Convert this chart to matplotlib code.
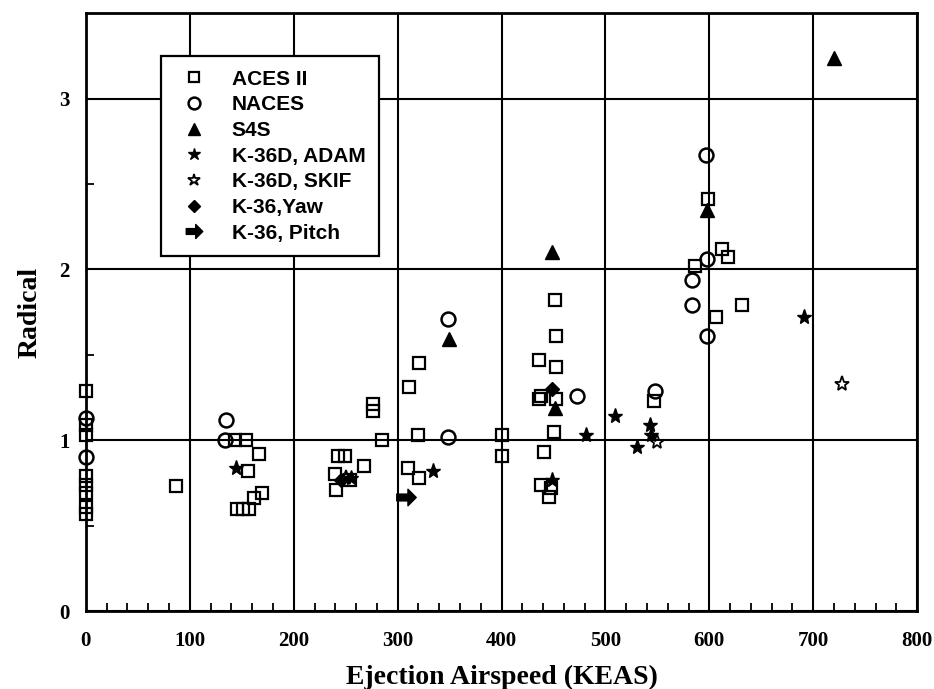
import matplotlib
matplotlib.use("Agg")
import matplotlib.pyplot as plt
from matplotlib.path import Path
from matplotlib.ticker import MultipleLocator, FixedLocator

# ---- data (Ejection Airspeed KEAS, Radical) ----
aces_x = [0, 0, 0, 0, 0, 0, 0, 0, 87,
          143, 154, 167, 156, 169, 162, 145, 151, 157,
          276, 276, 285, 243, 249, 268, 240, 241, 254,
          311, 321, 320, 310, 321, 400, 400,
          451, 452, 436, 452, 436, 438, 452, 450, 441, 438, 448, 446,
          547, 599, 612, 618, 586, 631, 606]
aces_y = [1.29, 1.09, 1.03, 0.79, 0.74, 0.69, 0.61, 0.57, 0.73,
          1.00, 1.00, 0.92, 0.82, 0.69, 0.66, 0.60, 0.60, 0.60,
          1.21, 1.17, 1.00, 0.91, 0.91, 0.85, 0.80, 0.71, 0.77,
          1.31, 1.45, 1.03, 0.84, 0.78, 1.03, 0.91,
          1.82, 1.61, 1.47, 1.43, 1.24, 1.26, 1.24, 1.05, 0.93, 0.74, 0.72, 0.67,
          1.23, 2.41, 2.12, 2.07, 2.02, 1.79, 1.72]

naces_x = [0, 0, 135, 134, 348, 348, 473, 548, 597, 598, 583, 583, 598]
naces_y = [1.13, 0.90, 1.12, 1.00, 1.71, 1.02, 1.26, 1.29, 2.67, 2.06, 1.94, 1.79, 1.61]

s4s_x = [349, 449, 451, 598, 720]
s4s_y = [1.59, 2.10, 1.19, 2.35, 3.24]

adam_x = [144, 255, 334, 449, 481, 509, 530, 543, 544, 691]
adam_y = [0.84, 0.78, 0.82, 0.77, 1.03, 1.14, 0.96, 1.09, 1.03, 1.72]

skif_x = [250, 550, 728]
skif_y = [0.78, 0.99, 1.33]

yaw_x = [449, 245]
yaw_y = [1.30, 0.77]

pitch_x = [308]
pitch_y = [0.67]

# right-pointing block arrow marker
arrow = Path([(-1.0, 0.35), (0.15, 0.35), (0.15, 0.85), (1.0, 0.0),
              (0.15, -0.85), (0.15, -0.35), (-1.0, -0.35), (-1.0, 0.35)],
             [Path.MOVETO] + [Path.LINETO] * 6 + [Path.CLOSEPOLY])

fig = plt.figure(figsize=(9.34, 6.89), dpi=100)
ax = fig.add_axes([0.092, 0.113, 0.890, 0.868])

common = dict(ls="none", zorder=3, clip_on=False)
ax.plot(aces_x, aces_y, marker="s", ms=9, mfc="none", mec="black",
        mew=1.6, label="ACES II", **common)
ax.plot(naces_x, naces_y, marker="o", ms=10, mfc="none", mec="black",
        mew=1.8, label="NACES", **common)
ax.plot(s4s_x, s4s_y, marker="^", ms=10, color="black", label="S4S", **common)
ax.plot(adam_x, adam_y, marker="*", ms=11, color="black",
        label="K-36D, ADAM", **common)
ax.plot(skif_x, skif_y, marker="*", ms=11, mfc="none", mec="black",
        mew=1.3, label="K-36D, SKIF", **common)
ax.plot(yaw_x, yaw_y, marker="D", ms=7, color="black", label="K-36,Yaw", **common)
ax.plot(pitch_x, pitch_y, marker=arrow, ms=14, color="black",
        label="K-36, Pitch", **common)

ax.set_xlim(0, 800)
ax.set_ylim(0, 3.5)
ax.xaxis.set_major_locator(MultipleLocator(100))
ax.xaxis.set_minor_locator(FixedLocator([v for v in range(20, 800, 20) if v % 100]))
ax.yaxis.set_major_locator(FixedLocator([0, 1, 2, 3]))
ax.yaxis.set_minor_locator(FixedLocator([0.5, 1.5, 2.5]))
ax.tick_params(axis="x", which="major", length=0, pad=14)
ax.tick_params(axis="y", which="major", length=0, pad=12)
ax.tick_params(which="minor", direction="in", length=6, width=1.3)
ax.grid(True, which="major", color="black", lw=1.5)

for sp in ax.spines.values():
    sp.set_linewidth(2)

tick_font = dict(family="Liberation Serif", weight="bold", size=15)
for lab in ax.get_xticklabels() + ax.get_yticklabels():
    lab.set_fontproperties(matplotlib.font_manager.FontProperties(**tick_font))

ax.set_xlabel("Ejection Airspeed (KEAS)", family="Liberation Serif",
              weight="bold", size=20, labelpad=10)
ax.set_ylabel("Radical", family="Liberation Serif", weight="bold", size=20,
              labelpad=12)

leg = ax.legend(loc="upper left", bbox_to_anchor=(0.09, 0.928), borderaxespad=0,
                prop=dict(family="Liberation Sans", weight="bold", size=15),
                frameon=True, fancybox=False, shadow=False, edgecolor="black",
                framealpha=1, handlelength=1.9, handletextpad=0.85,
                labelspacing=0.32, borderpad=0.65, markerscale=0.85)
leg.get_frame().set_linewidth(1.6)
leg.set_zorder(5)

fig.savefig("out.png", dpi=100)
